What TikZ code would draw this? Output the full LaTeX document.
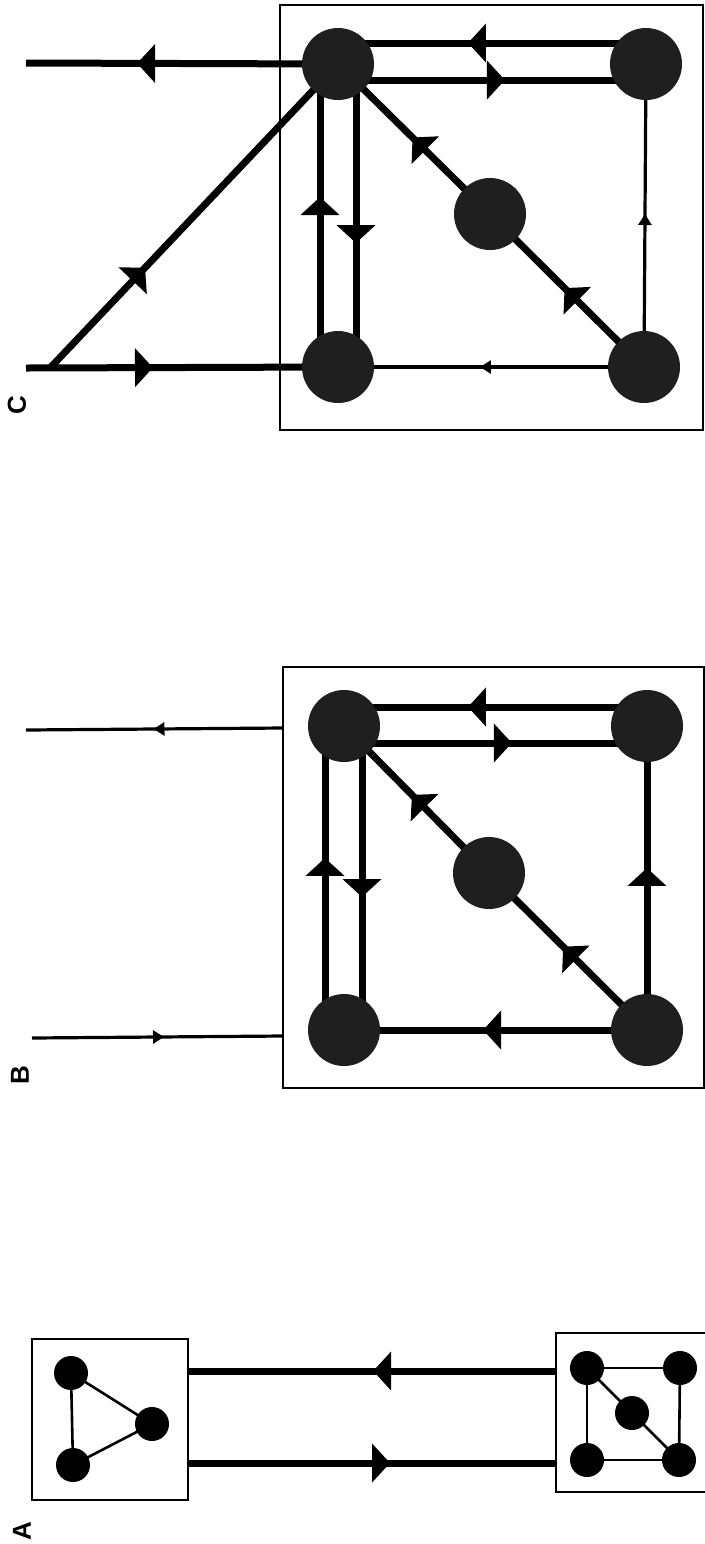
\documentclass[tikz,border=0pt]{standalone}
\usepackage{fontspec}
\setsansfont{Liberation Sans}
\usetikzlibrary{arrows.meta,decorations.markings,calc}
\pgfdeclarelayer{bg}
\pgfsetlayers{bg,main}
\begin{document}
\begin{tikzpicture}[x=0.5pt,y=-0.5pt,
  bignode/.style={circle,fill=black!88,draw=none,minimum size=36pt,inner sep=0pt},
  smallnode/.style={circle,fill=black,draw=none,minimum size=17pt,inner sep=0pt},
  thickline/.style={line width=3.5pt},
  thinline/.style={line width=1.6pt},
  edgeline/.style={line width=1.3pt},
  frame/.style={line width=1.4pt},
  bigarr/.style={postaction={decorate},decoration={markings,mark=at position #1 with {\arrow{Triangle[length=9pt,width=19pt]}}}},
  smallarr/.style={postaction={decorate},decoration={markings,mark=at position #1 with {\arrow{Triangle[length=5.5pt,width=6.5pt]}}}},
  lbl/.style={font=\sffamily\bfseries\fontsize{13}{15}\selectfont,rotate=90,inner sep=0pt}
]
\path[use as bounding box] (0,0) rectangle (705,1544);

% ---------------- Panel C ----------------
\draw[frame] (280,5) rectangle (703,430);
\node[bignode] (C1) at (338,64) {};
\node[bignode] (C2) at (646,64) {};
\node[bignode] (C3) at (490,214) {};
\node[bignode] (C4) at (644,367) {};
\node[bignode] (C5) at (338,367) {};
\coordinate (Ct) at (26,63);
\coordinate (Cb) at (26,368);
\coordinate (Cj) at (50,368);
\begin{pgfonlayer}{bg}
\draw[thickline,bigarr=0.644] (C1.center) -- (Ct);
\draw[thickline,bigarr=0.407] (Cb) -- (C5.center);
\draw[thickline,bigarr=0.33] (Cj) -- (C1.center);
\draw[thickline,bigarr=0.561] ($(C5.center)+(-18,0)$) -- ($(C1.center)+(-18,0)$);
\draw[thickline,bigarr=0.591] ($(C1.center)+(18,0)$) -- ($(C5.center)+(18,0)$);
\draw[thickline,bigarr=0.578] ($(C2.center)+(0,-21)$) -- ($(C1.center)+(0,-21)$);
\draw[thickline,bigarr=0.542] ($(C1.center)+(0,16)$) -- ($(C2.center)+(0,16)$);
\draw[thickline,bigarr=0.51] (C3.center) -- (C1.center);
\draw[thickline,bigarr=0.516] (C4.center) -- (C3.center);
\draw[thinline,smallarr=0.505] (C4.center) -- (C2.center);
\draw[thinline,smallarr=0.536] (C4.center) -- (C5.center);
\end{pgfonlayer}
\node[lbl] (labC) at (17,405) {C};

% ---------------- Panel B ----------------
\draw[frame] (283,667) rectangle (704,1088);
\node[bignode] (B1) at (344,726) {};
\node[bignode] (B2) at (647,726) {};
\node[bignode] (B3) at (489,873) {};
\node[bignode] (B4) at (647,1030) {};
\node[bignode] (B5) at (344,1030) {};
\coordinate (Bto) at (26,730);
\coordinate (Bti) at (283,728);
\coordinate (Bbo) at (32,1038);
\coordinate (Bbi) at (283,1036);
\begin{pgfonlayer}{bg}
\draw[thinline,smallarr=0.504] (Bti) -- (Bto);
\draw[thinline,smallarr=0.526] (Bbo) -- (Bbi);
\draw[thickline,bigarr=0.566] ($(B5.center)+(-19,0)$) -- ($(B1.center)+(-19,0)$);
\draw[thickline,bigarr=0.5625] ($(B1.center)+(18,0)$) -- ($(B5.center)+(18,0)$);
\draw[thickline,bigarr=0.591] ($(B2.center)+(0,-19)$) -- ($(B1.center)+(0,-19)$);
\draw[thickline,bigarr=0.554] ($(B1.center)+(0,17)$) -- ($(B2.center)+(0,17)$);
\draw[thickline,bigarr=0.532] (B3.center) -- (B1.center);
\draw[thickline,bigarr=0.531] (B4.center) -- (B3.center);
\draw[thickline,bigarr=0.533] (B4.center) -- (B2.center);
\draw[thickline,bigarr=0.541] (B4.center) -- (B5.center);
\end{pgfonlayer}
\node[lbl] (labB) at (20,1075) {B};

% ---------------- Panel A ----------------
\draw[frame] (32,1339) rectangle (188,1500);
\node[smallnode] (a1) at (71,1373) {};
\node[smallnode] (a2) at (73,1465) {};
\node[smallnode] (a3) at (152,1424) {};
\draw[frame] (556,1333) rectangle (712,1492);
\node[smallnode] (b1) at (587,1368) {};
\node[smallnode] (b2) at (680,1368) {};
\node[smallnode] (b3) at (632,1413) {};
\node[smallnode] (b4) at (587,1460) {};
\node[smallnode] (b5) at (679,1460) {};
\coordinate (Au1) at (556,1371);
\coordinate (Au2) at (188,1371);
\coordinate (Al1) at (188,1463);
\coordinate (Al2) at (556,1463);
\begin{pgfonlayer}{bg}
\draw[edgeline] (a1.center) -- (a2.center);
\draw[edgeline] (a1.center) -- (a3.center);
\draw[edgeline] (a2.center) -- (a3.center);
\draw[edgeline] (b1.center) -- (b2.center);
\draw[edgeline] (b1.center) -- (b4.center);
\draw[edgeline] (b2.center) -- (b5.center);
\draw[edgeline] (b4.center) -- (b5.center);
\draw[edgeline] (b1.center) -- (b3.center);
\draw[edgeline] (b3.center) -- (b5.center);
\draw[thickline,bigarr=0.497] (Au1) -- (Au2);
\draw[thickline,bigarr=0.549] (Al1) -- (Al2);
\end{pgfonlayer}
\node[lbl] (labA) at (22,1531) {A};
\end{tikzpicture}
\end{document}
